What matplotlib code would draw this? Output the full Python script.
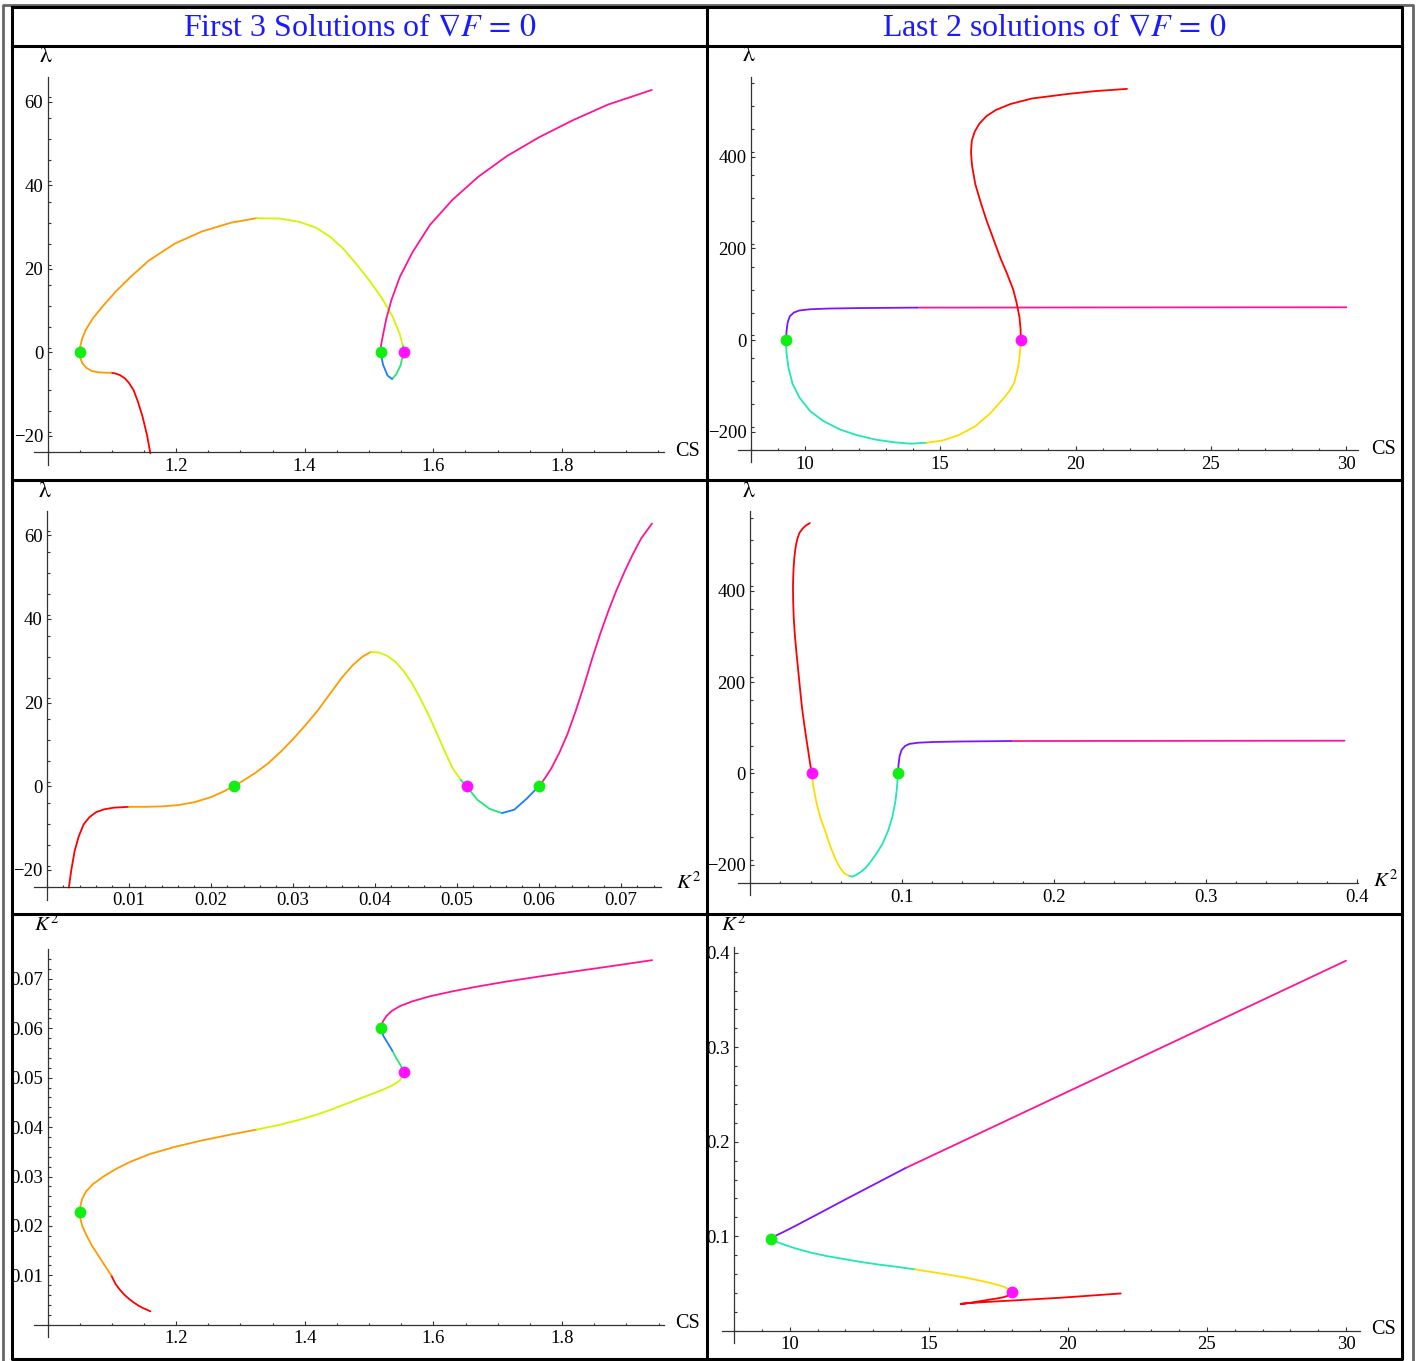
import numpy as np
import matplotlib
matplotlib.use("Agg")
import matplotlib.pyplot as plt  # noqa
from matplotlib.ticker import FixedLocator

plt.rcParams["font.family"] = ["Liberation Serif", "DejaVu Serif"]
plt.rcParams["mathtext.fontset"] = "stix"

# ---- first 3 solutions: one branch, sampled along K^2 ----
k2_a = [0.0027, 0.0030, 0.0034, 0.0039, 0.0045, 0.0052, 0.0060, 0.0070,
        0.0082, 0.0100, 0.0120, 0.0140, 0.0160, 0.0180, 0.0200, 0.0215,
        0.0228, 0.0240, 0.0255, 0.0270, 0.0285, 0.0300, 0.0315, 0.0330,
        0.0345, 0.0360, 0.0373, 0.0385, 0.0395, 0.0405, 0.0415, 0.0425,
        0.0435, 0.0445, 0.0455, 0.0465, 0.0475, 0.0485, 0.0495, 0.0505,
        0.0512, 0.0525, 0.0540, 0.0555, 0.0570, 0.0585, 0.0600, 0.0607,
        0.0615, 0.0625, 0.0635, 0.0645, 0.0655, 0.0665, 0.0675, 0.0685,
        0.0695, 0.0705, 0.0715, 0.0725, 0.0738]
cs_a = [1.160, 1.155, 1.148, 1.141, 1.134, 1.127, 1.120, 1.113,
        1.106, 1.099, 1.089, 1.079, 1.069, 1.061, 1.054, 1.051,
        1.050, 1.051, 1.054, 1.060, 1.071, 1.087, 1.106, 1.129,
        1.158, 1.198, 1.240, 1.285, 1.325, 1.362, 1.392, 1.418,
        1.440, 1.460, 1.480, 1.500, 1.520, 1.537, 1.548, 1.553,
        1.554, 1.549, 1.542, 1.536, 1.529, 1.522, 1.518, 1.519,
        1.522, 1.527, 1.535, 1.548, 1.568, 1.595, 1.630, 1.670,
        1.715, 1.765, 1.818, 1.872, 1.940]
lam_a = [-24.2, -20.0, -15.5, -12.0, -9.1, -7.4, -6.2, -5.5,
         -5.1, -4.9, -4.9, -4.8, -4.5, -3.8, -2.6, -1.3,
         0.0, 1.4, 3.3, 5.5, 8.2, 11.2, 14.5, 18.0,
         22.0, 26.0, 28.9, 31.0, 32.1, 32.0, 31.2, 29.8,
         27.6, 24.8, 21.2, 17.3, 13.0, 8.5, 4.3, 1.5,
         0.0, -3.2, -5.4, -6.4, -5.6, -3.0, 0.0, 1.8,
         4.2, 8.0, 12.5, 18.0, 24.0, 30.5, 36.5, 42.0,
         47.0, 51.5, 55.6, 59.3, 62.8]
# colour pieces: (first index, last index, colour)
pieces_a = [(0, 9, "#ff0000"), (9, 28, "#ff9a00"), (28, 39, "#d2f500"),
            (39, 43, "#22e67a"), (43, 46, "#1a7dff"), (46, 60, "#ff1496")]
# points where lambda = 0
zero_cs_a = [1.050, 1.518, 1.554]
zero_k2_a = [0.0228, 0.0600, 0.0512]
zero_col_a = ["#11ee11", "#11ee11", "#ff11ff"]

# ---- last 2 solutions: one branch, from the pink end to the red end ----
cs_b = [30.0, 26.0, 22.0, 18.0, 14.15, 12.0, 10.9, 10.2, 9.8, 9.6, 9.45,
        9.37, 9.33, 9.31, 9.33, 9.40, 9.55, 9.8, 10.2, 10.7, 11.3, 11.9,
        12.6, 13.3, 13.9, 14.5, 15.1, 15.7, 16.3, 16.85, 17.3, 17.55, 17.73,
        17.88, 17.95, 17.98, 17.97, 17.93, 17.83, 17.70, 17.47, 17.22, 16.97,
        16.72, 16.50, 16.30, 16.18, 16.14, 16.17, 16.28, 16.45, 16.70, 17.06,
        17.60, 18.39, 19.73, 20.70, 21.90]
k2_b = [0.3915, 0.3361, 0.2807, 0.2253, 0.1720, 0.1390, 0.1218, 0.1110,
        0.1050, 0.1022, 0.1000, 0.0986, 0.0979, 0.0975, 0.0969, 0.0959,
        0.0939, 0.0911, 0.0872, 0.0831, 0.0792, 0.0762, 0.0726, 0.0697,
        0.0675, 0.0650, 0.0622, 0.0594, 0.0564, 0.0530, 0.0500, 0.0480,
        0.0462, 0.0436, 0.0418, 0.0407, 0.0395, 0.0384, 0.0370, 0.0357,
        0.0343, 0.0332, 0.0320, 0.0308, 0.0297, 0.0289, 0.0285, 0.0284,
        0.0286, 0.0289, 0.0293, 0.0298, 0.0305, 0.0314, 0.0327, 0.0350,
        0.0370, 0.0395]
lam_b = [71.5, 71.4, 71.2, 71.0, 70.8, 69.8, 68.8, 67.2, 64.5, 60.0, 52.0,
         38.0, 20.0, 0.0, -30, -60, -95, -125, -155, -177, -195, -207,
         -217, -223, -226, -224, -219, -207, -188, -160, -130, -112, -94,
         -60, -28, 0, 25, 50, 80, 110, 145, 180, 220,
         260, 300, 340, 380, 410, 435, 455, 472, 488, 502,
         515, 527, 537, 543, 548]
pieces_b = [(0, 4, "#ff1496"), (4, 13, "#7d14ff"), (13, 25, "#1ee8b4"),
            (25, 35, "#ffdc00"), (35, 57, "#ff0000")]
zero_cs_b = [9.31, 17.98]
zero_k2_b = [0.0975, 0.0407]
zero_col_b = ["#11ee11", "#ff11ff"]

W, H = 1416, 1361
fig = plt.figure(figsize=(W / 100, H / 100), dpi=100)

# table frame drawn in pixel coordinates
ov = fig.add_axes([0, 0, 1, 1])
ov.set_xlim(0, W)
ov.set_ylim(H, 0)
ov.axis("off")
ov.plot([2.5, 2.5, 1413, 1413], [H, 5, 5, H], color="#666666", lw=2)
ov.plot([12, 1401.5, 1401.5, 12, 12], [7, 7, 1359, 1359, 7], color="black",
        lw=2.2)
for y in (45.5, 480, 913.5):
    ov.plot([12, 1401.5], [y, y], color="black", lw=2.2)
ov.plot([706.5, 706.5], [7, 1359], color="black", lw=2.2)
ov.text(359.5, 28, r"First 3 Solutions of $\nabla F\,=\,0$", color="#1a1aff",
        fontsize=23, ha="center", va="center")
ov.text(1054.5, 28, r"Last 2 solutions of $\nabla F\,=\,0$", color="#1a1aff",
        fontsize=23, ha="center", va="center")

lab_l = r"$\mathrm{\lambda}$"
lab_k = r"$K^2$"


def fmt(v):
    s = ("%g" % v)
    return s.replace("-", "\u2212")


def make_panel(box, xlim, ylim, origin, xmaj, xmin_step, ymaj, ymin_step,
               ylabel, ylab_pos, xlabel, xlab_pos):
    x0, x1, y0, y1 = box
    ax = fig.add_axes([x0 / W, 1 - y1 / H, (x1 - x0) / W, (y1 - y0) / H])
    ax.patch.set_alpha(0)
    ax.set_xlim(*xlim)
    ax.set_ylim(*ylim)
    for s in ("top", "right"):
        ax.spines[s].set_visible(False)
    ax.spines["left"].set_position(("data", origin[0]))
    ax.spines["bottom"].set_position(("data", origin[1]))
    for s in ("left", "bottom"):
        ax.spines[s].set_color("#333333")
        ax.spines[s].set_linewidth(0.9)
    ax.xaxis.set_major_locator(FixedLocator(xmaj))
    ax.set_xticklabels([fmt(v) for v in xmaj])
    ax.yaxis.set_major_locator(FixedLocator(ymaj))
    ax.set_yticklabels([fmt(v) for v in ymaj])
    ax.xaxis.set_minor_locator(FixedLocator(
        np.arange(origin[0], xlim[1], xmin_step)))
    ax.yaxis.set_minor_locator(FixedLocator(
        np.arange(origin[1], ylim[1], ymin_step)))
    ax.tick_params(which="both", direction="in", color="#333333",
                   labelsize=13.5, width=0.8)
    ax.tick_params(which="major", length=3.2)
    ax.tick_params(which="minor", length=1.8)
    ax.tick_params(axis="x", pad=4)
    ax.tick_params(axis="y", pad=3)
    fs = 17 if ylabel == lab_l else 15
    ov.text(ylab_pos[0], ylab_pos[1], ylabel, fontsize=fs, ha="center",
            va="center")
    fs = 15 if xlabel == lab_k else 14.5
    ov.text(xlab_pos[0], xlab_pos[1], xlabel, fontsize=fs, ha="center",
            va="center")
    return ax


def draw(ax, xs, ys, pieces, zx, zy, zc):
    for i0, i1, c in pieces:
        ax.plot(xs[i0:i1 + 1], ys[i0:i1 + 1], color=c, lw=1.3,
                solid_capstyle="round", solid_joinstyle="round")
    for x, y, c in zip(zx, zy, zc):
        ax.plot([x], [y], "o", ms=8.5, color=c, mec="none", zorder=5)


zeros_a = [0.0] * len(zero_cs_a)
zeros_b = [0.0] * len(zero_cs_b)

# top left: lambda vs CS
ax1 = make_panel((34, 664, 77, 465), (0.979, 1.959), (-27.0, 65.9),
                 (1.0, -24.0), [1.2, 1.4, 1.6, 1.8], 0.05,
                 [-20, 0, 20, 40, 60], 5, lab_l, (46, 56), "CS", (688, 451))
draw(ax1, cs_a, lam_a, pieces_a, zero_cs_a, zeros_a, zero_col_a)

# top right: lambda vs CS
ax2 = make_panel((737.7, 1358, 77, 462), (7.526, 30.43), (-266, 573.9),
                 (8, -240), [10, 15, 20, 25, 30], 1,
                 [-200, 0, 200, 400], 50, lab_l, (749, 55), "CS", (1383, 449))
draw(ax2, cs_b, lam_b, pieces_b, zero_cs_b, zeros_b, zero_col_b)

# middle left: lambda vs K^2
ax3 = make_panel((34, 661, 511, 899.7), (-0.00155, 0.0749), (-27.1, 65.8),
                 (0.0, -24.0), [0.01, 0.02, 0.03, 0.04, 0.05, 0.06, 0.07],
                 0.002, [-20, 0, 20, 40, 60], 5, lab_l, (45, 491), lab_k,
                 (688, 883))
draw(ax3, k2_a, lam_a, pieces_a, zero_k2_a, zeros_a, zero_col_a)

# middle right: lambda vs K^2
ax4 = make_panel((737.7, 1358, 511.3, 894.7), (-0.008, 0.4004),
                 (-265.7, 573.9), (0.0, -240), [0.1, 0.2, 0.3, 0.4], 0.02,
                 [-200, 0, 200, 400], 50, lab_l, (749, 491), lab_k,
                 (1385, 881))
draw(ax4, k2_b, lam_b, pieces_b, zero_k2_b, zeros_b, zero_col_b)

# bottom left: K^2 vs CS
ax5 = make_panel((34, 663.7, 949.3, 1336.7), (0.979, 1.958),
                 (-0.00243, 0.0760), (1.0, 0.0), [1.2, 1.4, 1.6, 1.8], 0.05,
                 [0.01, 0.02, 0.03, 0.04, 0.05, 0.06, 0.07], 0.002,
                 lab_k, (46, 925), "CS", (688, 1323))
draw(ax5, cs_a, k2_a, pieces_a, zero_cs_a, zero_k2_a, zero_col_a)

# bottom right: K^2 vs CS
ax6 = make_panel((721.9, 1359.5, 947.3, 1343.3), (7.558, 30.485),
                 (-0.0132, 0.4057), (8, 0.0), [10, 15, 20, 25, 30], 1,
                 [0.1, 0.2, 0.3, 0.4], 0.02, lab_k, (733, 925), "CS",
                 (1384, 1330))
draw(ax6, cs_b, k2_b, pieces_b, zero_cs_b, zero_k2_b, zero_col_b)

fig.savefig("out.png", dpi=100)
